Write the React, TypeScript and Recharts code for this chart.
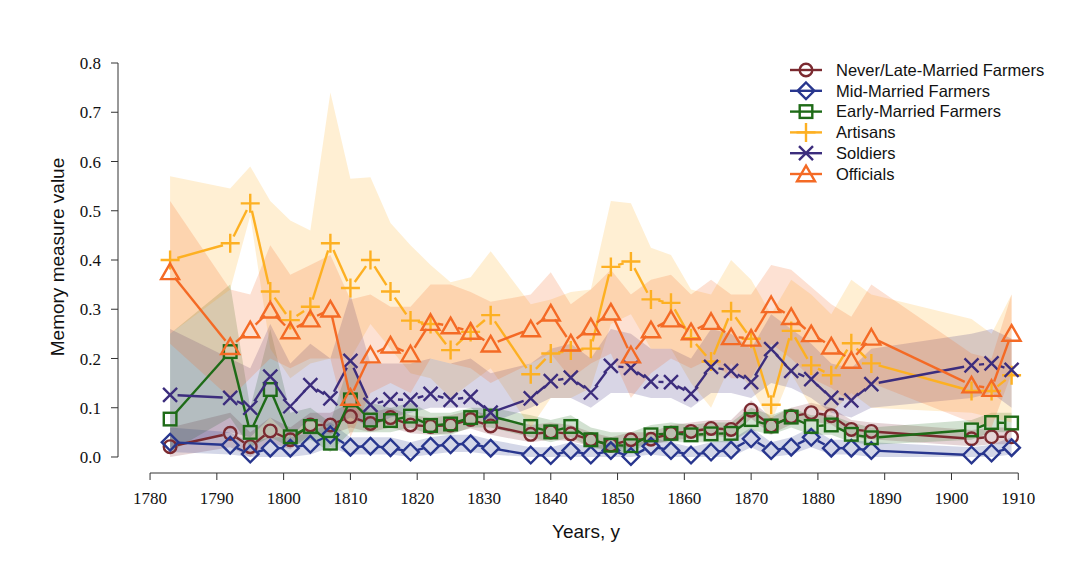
import React from 'react';
import { ComposedChart, Line, Area, XAxis, YAxis, ReferenceLine } from 'recharts';

const years = [1783, 1792, 1795, 1798, 1801, 1804, 1807, 1810, 1813, 1816, 1819, 1822, 1825, 1828, 1831, 1837, 1840, 1843, 1846, 1849, 1852, 1855, 1858, 1861, 1864, 1867, 1870, 1873, 1876, 1879, 1882, 1885, 1888, 1903, 1906, 1909];

const neverVals = [.021, .048, .021, .053, .035, .065, .065, .082, .068, .08, .065, .062, .065, .076, .063, .046, .051, .047, .035, .024, .035, .036, .048, .052, .058, .056, .095, .063, .082, .09, .084, .056, .052, .037, .041, .041];
const neverLo = [0, .02, 0, .03, .015, .045, .045, .06, .05, .06, .048, .045, .048, .058, .045, .03, .035, .032, .022, .012, .022, .024, .034, .038, .043, .04, .078, .047, .066, .072, .066, .04, .036, .022, .026, .026];
const neverHi = [.06, .09, .05, .08, .06, .09, .09, .11, .09, .1, .085, .08, .085, .095, .085, .065, .07, .065, .05, .04, .05, .05, .065, .07, .075, .075, .115, .08, .1, .11, .1, .075, .07, .055, .06, .06];

const midVals = [.03, .024, .006, .018, .018, .026, .045, .02, .022, .019, .01, .022, .025, .027, .018, .004, .003, .013, .004, .013, .001, .022, .013, .004, .01, .014, .037, .013, .02, .04, .018, .018, .013, .004, .008, .019];
const midLo = [.01, .005, 0, 0, 0, .005, .02, .005, .005, .005, 0, .005, .01, .01, .005, 0, 0, 0, 0, 0, 0, .005, 0, 0, 0, 0, .02, 0, .005, .02, .005, .005, 0, 0, 0, .005];
const midHi = [.06, .05, .03, .04, .04, .05, .07, .04, .04, .04, .03, .04, .045, .045, .035, .02, .02, .03, .02, .03, .02, .04, .03, .02, .03, .035, .06, .03, .04, .06, .035, .035, .03, .02, .025, .04];

const earlyVals = [.077, .214, .05, .137, .041, .062, .028, .116, .075, .074, .083, .064, .067, .08, .083, .062, .051, .062, .035, .024, .023, .045, .048, .045, .047, .048, .076, .063, .081, .062, .065, .046, .039, .055, .07, .069];
const earlyLo = [.01, .08, .02, .04, .02, .035, .01, .05, .05, .05, .06, .045, .045, .06, .06, .04, .03, .04, .02, .01, .01, .03, .03, .03, .03, .03, .055, .045, .06, .045, .045, .03, .025, .035, .05, .05];
const earlyHi = [.25, .35, .1, .26, .09, .1, .07, .2, .11, .1, .11, .09, .09, .1, .1, .085, .075, .085, .06, .05, .05, .065, .07, .065, .07, .07, .1, .085, .1, .085, .085, .07, .06, .075, .09, .09];

const artVals = [.40, .434, .515, .336, .278, .305, .434, .343, .40, .336, .277, .27, .217, .254, .288, .168, .21, .216, .22, .386, .397, .32, .313, .241, .194, .296, .24, .106, .256, .186, .166, .231, .19, .134, .134, .166];
const artLo = [.25, .34, .49, .22, .16, .19, .2, .2, .27, .22, .17, .16, .12, .15, .18, .06, .12, .12, .14, .27, .29, .22, .22, .15, .1, .19, .14, .07, .17, .1, .09, .13, .1, .09, .08, .07];
const artHi = [.57, .545, .59, .52, .48, .46, .74, .565, .568, .475, .43, .39, .355, .365, .418, .31, .32, .335, .34, .52, .515, .425, .41, .34, .33, .40, .36, .29, .36, .33, .29, .36, .33, .28, .25, .33];

const solVals = [.126, .12, .1, .163, .103, .146, .119, .195, .106, .117, .116, .128, .116, .122, .09, .119, .154, .161, .131, .185, .181, .153, .152, .128, .183, .175, .152, .219, .175, .158, .12, .115, .148, .186, .19, .177];
const solLo = [.02, .05, .04, .08, .04, .08, .06, .08, .06, .08, .09, .1, .1, .1, .07, .1, .12, .12, .1, .13, .13, .12, .12, .1, .13, .13, .12, .15, .14, .12, .09, .08, .1, .12, .13, .1];
const solHi = [.26, .2, .18, .27, .19, .23, .2, .33, .19, .19, .19, .2, .19, .2, .17, .19, .22, .23, .2, .26, .25, .22, .22, .2, .26, .25, .22, .29, .26, .23, .19, .18, .22, .25, .26, .24];

const offVals = [.376, .224, .258, .298, .256, .28, .3, .121, .207, .227, .209, .273, .266, .255, .229, .26, .292, .231, .264, .294, .207, .258, .28, .254, .275, .244, .241, .309, .285, .25, .225, .196, .243, .146, .139, .251];
const offLo = [.23, .12, .16, .2, .18, .2, .2, .04, .13, .15, .13, .2, .19, .18, .15, .19, .21, .16, .19, .21, .12, .17, .2, .18, .2, .16, .16, .23, .2, .16, .14, .11, .15, .07, .06, .17];
const offHi = [.52, .34, .33, .43, .37, .39, .41, .32, .33, .305, .305, .35, .35, .335, .315, .33, .375, .31, .34, .38, .33, .36, .37, .33, .36, .33, .33, .39, .38, .345, .31, .285, .35, .21, .20, .33];

const xTicks = [1780, 1790, 1800, 1810, 1820, 1830, 1840, 1850, 1860, 1870, 1880, 1890, 1900, 1910];
const yTicks = [0, 0.1, 0.2, 0.3, 0.4, 0.5, 0.6, 0.7, 0.8];

const seriesNames = ['Never/Late-Married Farmers', 'Mid-Married Farmers', 'Early-Married Farmers', 'Artisans', 'Soldiers', 'Officials'];

type Kind = 'circle' | 'diamond' | 'square' | 'plus' | 'cross' | 'triangle';

const SERIES: { key: string; name: string; color: string; kind: Kind; vals: number[]; lo: number[]; hi: number[] }[] = [
  { key: 'never', name: seriesNames[0], color: '#7B2A30', kind: 'circle', vals: neverVals, lo: neverLo, hi: neverHi },
  { key: 'mid', name: seriesNames[1], color: '#28368E', kind: 'diamond', vals: midVals, lo: midLo, hi: midHi },
  { key: 'early', name: seriesNames[2], color: '#1E6B17', kind: 'square', vals: earlyVals, lo: earlyLo, hi: earlyHi },
  { key: 'art', name: seriesNames[3], color: '#FDB022', kind: 'plus', vals: artVals, lo: artLo, hi: artHi },
  { key: 'sol', name: seriesNames[4], color: '#3C2D7D', kind: 'cross', vals: solVals, lo: solLo, hi: solHi },
  { key: 'off', name: seriesNames[5], color: '#F46A25', kind: 'triangle', vals: offVals, lo: offLo, hi: offHi },
];

const data = years.map((y, i) => {
  const row: any = { year: y };
  SERIES.forEach((s) => {
    row[s.key] = s.vals[i];
    row[s.key + 'Band'] = [s.lo[i], s.hi[i]];
  });
  return row;
});

const SW = 2.4;
const GAP = 7.5;

function Marker({ kind, x, y, color }: { kind: Kind; x: number; y: number; color: string }) {
  const common = { fill: 'none', stroke: color, strokeWidth: SW };
  switch (kind) {
    case 'circle':
      return <circle cx={x} cy={y} r={6.3} {...common} />;
    case 'diamond':
      return <polygon points={`${x},${y - 8.3} ${x + 8.3},${y} ${x},${y + 8.3} ${x - 8.3},${y}`} {...common} />;
    case 'square':
      return <rect x={x - 6.3} y={y - 6.3} width={12.6} height={12.6} {...common} />;
    case 'plus':
      return <path d={`M${x - 9.5},${y}H${x + 9.5}M${x},${y - 9.5}V${y + 9.5}`} {...common} />;
    case 'cross':
      return <path d={`M${x - 7},${y - 7}L${x + 7},${y + 7}M${x - 7},${y + 7}L${x + 7},${y - 7}`} {...common} />;
    case 'triangle':
      return <polygon points={`${x},${y - 8.3} ${x + 9},${y + 7.3} ${x - 9},${y + 7.3}`} {...common} />;
  }
  return null;
}

const makeDot = (s: (typeof SERIES)[number]) => (props: any) => {
  const { cx, cy, index, points } = props;
  let seg: any = null;
  if (points && index < points.length - 1) {
    const n = points[index + 1];
    if (n && n.x != null && n.y != null) {
      const dx = n.x - cx;
      const dy = n.y - cy;
      const L = Math.hypot(dx, dy);
      if (L > 2 * GAP) {
        seg = (
          <line
            x1={cx + (dx / L) * GAP}
            y1={cy + (dy / L) * GAP}
            x2={n.x - (dx / L) * GAP}
            y2={n.y - (dy / L) * GAP}
            stroke={s.color}
            strokeWidth={SW}
          />
        );
      }
    }
  }
  return (
    <g key={`${s.key}-dot-${index}`}>
      {seg}
      <Marker kind={s.kind} x={cx} y={cy} color={s.color} />
    </g>
  );
};

const X_MIN = 1775.2;
const X_MAX = 1915.2;
const Y_MIN = -0.0325;
const Y_MAX = 0.8325;

const legendTop = 70;
const legendStep = 20.8;

export default function App() {
  return (
    <div style={{ position: 'absolute', left: 0, top: 0, width: 1080, height: 562, background: '#fff' }}>
      <ComposedChart
        width={1080}
        height={562}
        data={data}
        margin={{ top: 47, right: 27, bottom: 49, left: 58 }}
      >
        <XAxis
          dataKey="year"
          type="number"
          domain={[X_MIN, X_MAX]}
          allowDataOverflow
          ticks={xTicks}
          interval={0}
          axisLine={false}
          tickLine={{ stroke: '#333', strokeWidth: 1 }}
          tickSize={7}
          tickMargin={12}
          height={40}
          tick={{ fill: '#111', fontSize: 17, fontFamily: '"Liberation Serif", serif' }}
        />
        <YAxis
          type="number"
          domain={[Y_MIN, Y_MAX]}
          allowDataOverflow
          ticks={yTicks}
          interval={0}
          axisLine={false}
          tickLine={{ stroke: '#333', strokeWidth: 1 }}
          tickSize={7}
          tickMargin={10}
          width={60}
          tickFormatter={(v: number) => v.toFixed(1)}
          tick={{ fill: '#111', fontSize: 17, fontFamily: '"Liberation Serif", serif' }}
        />
        <ReferenceLine
          segment={[{ x: 1780, y: Y_MIN }, { x: 1910, y: Y_MIN }]}
          stroke="#333"
          strokeWidth={1}
          ifOverflow="visible"
        />
        <ReferenceLine
          segment={[{ x: X_MIN, y: 0 }, { x: X_MIN, y: 0.8 }]}
          stroke="#333"
          strokeWidth={1}
          ifOverflow="visible"
        />
        {SERIES.map((s) => (
          <Area
            key={s.key + 'Band'}
            type="linear"
            dataKey={s.key + 'Band'}
            stroke="none"
            fill={s.color}
            fillOpacity={0.2}
            dot={false}
            activeDot={false}
            isAnimationActive={false}
          />
        ))}
        {SERIES.map((s) => (
          <Line
            key={s.key}
            type="linear"
            dataKey={s.key}
            stroke="none"
            dot={makeDot(s)}
            activeDot={false}
            isAnimationActive={false}
          />
        ))}
      </ComposedChart>
      <svg
        width={1080}
        height={562}
        style={{ position: 'absolute', left: 0, top: 0, pointerEvents: 'none' }}
      >
        <text
          transform="translate(64,257) rotate(-90)"
          textAnchor="middle"
          fontFamily='"Liberation Sans", Arial, sans-serif'
          fontSize={19}
          fill="#111"
        >
          Memory measure value
        </text>
        <text
          x={586}
          y={538}
          textAnchor="middle"
          fontFamily='"Liberation Sans", Arial, sans-serif'
          fontSize={19}
          fill="#111"
        >
          Years, y
        </text>
        {SERIES.map((s, i) => {
          const cy = legendTop + i * legendStep;
          return (
            <g key={'leg-' + s.key}>
              <line x1={790} y1={cy} x2={822} y2={cy} stroke={s.color} strokeWidth={SW} />
              <Marker kind={s.kind} x={806} y={cy} color={s.color} />
              <text
                x={836}
                y={cy}
                dy="0.35em"
                fontFamily='"Liberation Sans", Arial, sans-serif'
                fontSize={16.5}
                fill="#111"
              >
                {s.name}
              </text>
            </g>
          );
        })}
      </svg>
    </div>
  );
}
